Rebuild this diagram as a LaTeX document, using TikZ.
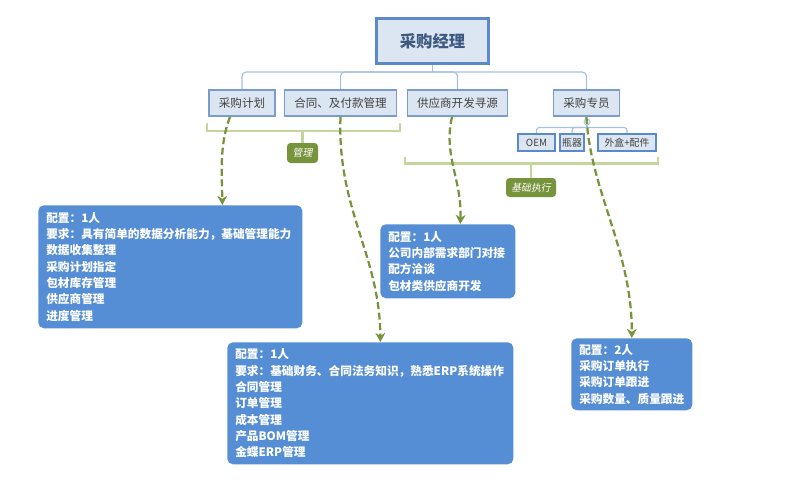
\documentclass[tikz,border=0pt]{standalone}
\usepackage{fontspec}
\setmainfont{Noto Sans CJK SC}
\newfontfamily\xieti[FakeSlant=0.2]{Noto Sans CJK SC}
\usetikzlibrary{calc,arrows.meta}

\definecolor{qianlan}{HTML}{DCE6F2}
\definecolor{bianlan}{HTML}{7A9CCB}
\definecolor{shenlan}{HTML}{5B8ACB}
\definecolor{xianlan}{HTML}{A8C0E0}
\definecolor{kuanglan}{HTML}{558ED5}
\definecolor{ganlan}{HTML}{77933C}
\definecolor{qianlv}{HTML}{C3D69B}
\definecolor{biaoti}{HTML}{3D5A80}
\definecolor{wenzi}{HTML}{404040}

\tikzset{
  zongjingli/.style = {draw=shenlan, fill=qianlan, line width=2.1pt, inner sep=0pt,
    font=\fontsize{11.6}{14}\selectfont\bfseries, text=biaoti},
  zhiwei/.style = {draw=bianlan, fill=qianlan, line width=1.1pt, inner sep=0pt,
    minimum height=0.66cm, font=\fontsize{8.2}{10}\selectfont, text=wenzi},
  fenlei/.style = {draw=shenlan, fill=qianlan, line width=1.4pt, inner sep=0pt,
    minimum height=0.425cm, font=\fontsize{7}{8}\selectfont, text=wenzi},
  lianxian/.style = {draw=xianlan, line width=0.8pt},
  kuohao/.style = {draw=qianlv, line width=2.1pt},
  biaoqian/.style = {fill=ganlan, rounded corners=2.5pt, inner sep=0pt, text=white,
    font=\fontsize{7}{8}\selectfont\xieti},
  xiangqing/.style = {fill=kuanglan, rounded corners=4pt, anchor=north west,
    inner xsep=0.2cm, inner ysep=0pt, align=left, text=white,
    font=\fontsize{8.3}{11.6}\selectfont\bfseries},
  jiantou/.style = {draw=ganlan, line width=1.6pt, dash pattern=on 5pt off 2.5pt,
    -{Stealth[length=6.5pt,width=7pt]}}
}

\begin{document}
\begin{tikzpicture}[x=0.025cm,y=-0.025cm]
    \fill[white](0,0)rectangle(801,489);
    \useasboundingbox(0,0)rectangle(801,489);
    % 经理
    \node[zongjingli, minimum width=2.8cm, minimum height=1.125cm](jingli)at(432.5,41){采购经理};
    % 岗位
    \node[zhiwei, minimum width=1.66cm](jihua)at(242,103){采购计划};
    \node[zhiwei, minimum width=2.79cm](hetong)at(340.5,103){合同、及付款管理};
    \node[zhiwei, minimum width=2.49cm](gongying)at(457.5,103){供应商开发寻源};
    \node[zhiwei, minimum width=1.64cm](zhuanyuan)at(586.5,103){采购专员};
    \coordinate(zongxian)at(432.5,72);
    \draw[lianxian](jingli.south)to(zongxian);
    \foreach \n in {jihua,hetong,gongying,zhuanyuan}
    {
    \draw[lianxian, rounded corners=3pt](\n.north)|-(zongxian);
    }
    % 专员分类
    \node[fenlei, minimum width=0.925cm](oem)at(536.5,142.5){OEM};
    \node[fenlei, minimum width=0.6cm](pingqi)at(572,142.5){瓶器};
    \node[fenlei, minimum width=1.45cm](waihe)at(627,142.5){外盒+配件};
    \node[circle, draw=xianlan, fill=white, line width=0.6pt, minimum size=0.15cm, inner sep=0pt](dian)at(587,122){};
    \coordinate(zixian)at(587,127.5);
    \draw[lianxian](zhuanyuan.south)to(dian);
    \draw[lianxian](dian)to(zixian);
    \foreach \n in {oem,pingqi,waihe}
    {
    \draw[lianxian, rounded corners=2pt](\n.north)|-(zixian);
    }
    % 括号
    \node[biaoqian, minimum width=0.775cm, minimum height=0.5cm](guanli)at(302.5,153){管理};
    \node[biaoqian, minimum width=1.25cm, minimum height=0.475cm](jichu)at(531,187.5){基础执行};
    \draw[kuohao](207,123)--(207,131)--(400,131)--(400,123);
    \draw[kuohao](302.5,131)to(guanli.north);
    \draw[kuohao](405,157)--(405,163.5)--(658,163.5)--(658,157);
    \draw[kuohao](531,163.5)to(jichu.north);
    % 说明
    \node[xiangqing, text width=6.2cm, minimum height=3.075cm](pz1)at(38,205)
      {配置：1人\\要求：具有简单的数据分析能力，基础管理能力\\数据收集整理\\采购计划指定\\包材库存管理\\供应商管理\\进度管理};
    \node[xiangqing, text width=2.975cm, minimum height=1.85cm](pz2)at(380,224)
      {配置：1人\\公司内部需求部门对接\\配方洽谈\\包材类供应商开发};
    \node[xiangqing, text width=6.75cm, minimum height=3.05cm](pz3)at(227,342)
      {配置：1人\\要求：基础财务、合同法务知识，熟悉ERP系统操作\\合同管理\\订单管理\\成本管理\\产品BOM管理\\金蝶ERP管理};
    \node[xiangqing, text width=2.625cm, minimum height=1.8cm](pz4)at(571,338)
      {配置：2人\\采购订单执行\\采购订单跟进\\采购数量、质量跟进};
    % 箭头
    \draw[jiantou]($(jihua.south)+(-12,0)$)..controls(219,145)and(222,175)..($(pz1.north)+(52,0)$);
    \draw[jiantou](hetong.south)..controls(337,210)and(380,255)..($(pz3.north)+(10,0)$);
    \draw[jiantou]($(gongying.south)+(-5.5,0)$)..controls(443,155)and(462,180)..($(pz2.north)+(12.5,0)$);
    \draw[jiantou](zhuanyuan.south)..controls(590,190)and(632,250)..(pz4.north);
\end{tikzpicture}
\end{document}
